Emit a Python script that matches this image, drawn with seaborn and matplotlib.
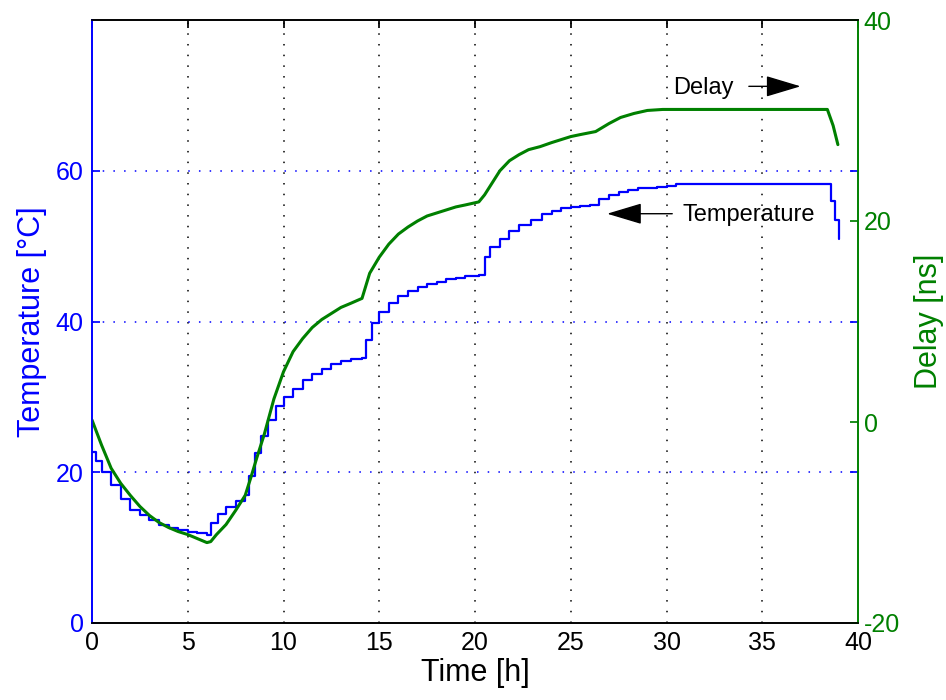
import numpy as np
import pandas as pd
import matplotlib
matplotlib.use("Agg")
import matplotlib.pyplot as plt
import seaborn as sns

# ---- data ----
temp_time = [0.0, 0.2, 0.5, 1.0, 1.5, 2.0, 2.5, 3.0, 3.5, 4.0, 4.5, 5.0, 5.5, 6.0,
             6.2, 6.6, 7.0, 7.5, 8.0, 8.2, 8.5, 8.8, 9.2, 9.6, 10.0, 10.5, 11.0,
             11.5, 12.0, 12.5, 13.0, 13.5, 14.1, 14.3, 14.6, 15.0, 15.5, 16.0,
             16.5, 17.0, 17.5, 18.0, 18.5, 19.0, 19.5, 20.2, 20.5, 20.8, 21.3,
             21.8, 22.3, 22.9, 23.5, 24.0, 24.5, 25.0, 25.5, 26.0, 26.5, 27.0,
             27.5, 28.0, 28.5, 29.0, 29.5, 30.0, 30.5, 38.4, 38.6, 38.8, 39.0]
temp_vals = [22.7, 21.5, 20.0, 18.3, 16.5, 15.0, 14.3, 13.7, 13.0, 12.6, 12.3, 12.1,
             12.0, 11.7, 13.3, 14.5, 15.4, 16.2, 17.0, 19.5, 22.5, 24.8, 26.9, 28.8,
             30.0, 31.1, 32.2, 33.0, 33.7, 34.4, 34.8, 35.0, 35.2, 37.5, 39.8, 41.3,
             42.5, 43.4, 44.1, 44.6, 45.0, 45.3, 45.6, 45.8, 46.0, 46.2, 48.5, 49.9,
             51.0, 52.0, 52.8, 53.5, 54.2, 54.7, 55.1, 55.2, 55.3, 55.5, 56.2, 56.8,
             57.2, 57.5, 57.7, 57.7, 57.8, 58.0, 58.2, 58.2, 56.0, 53.5, 51.0]

delay_time = [0.0, 0.5, 1.0, 1.5, 2.0, 2.5, 3.0, 3.5, 4.0, 4.5, 5.0, 5.5, 6.0, 6.2,
              6.5, 7.0, 7.5, 8.0, 8.3, 8.6, 9.0, 9.5, 10.0, 10.5, 11.0, 11.5, 12.0,
              12.5, 13.0, 13.5, 14.1, 14.5, 15.0, 15.5, 16.0, 16.5, 17.0, 17.5, 18.0,
              18.5, 19.0, 19.5, 20.2, 20.5, 20.8, 21.3, 21.8, 22.3, 22.8, 23.4, 24.0,
              24.5, 25.0, 25.5, 26.3, 27.0, 27.6, 28.3, 29.0, 29.8, 38.4, 38.7, 38.95]
delay_vals = [0.2, -2.3, -4.6, -6.1, -7.3, -8.4, -9.3, -10.0, -10.5, -10.9, -11.2,
              -11.6, -12.0, -11.9, -11.2, -10.2, -8.8, -7.3, -5.5, -3.6, -1.2, 2.3,
              5.0, 7.0, 8.3, 9.4, 10.2, 10.8, 11.4, 11.8, 12.3, 14.8, 16.4, 17.7,
              18.7, 19.4, 20.0, 20.5, 20.8, 21.1, 21.4, 21.6, 21.9, 22.6, 23.5, 25.0,
              26.0, 26.6, 27.1, 27.4, 27.8, 28.1, 28.4, 28.6, 28.9, 29.7, 30.3, 30.7,
              31.0, 31.1, 31.1, 29.5, 27.6]

x_ticks = [0, 5, 10, 15, 20, 25, 30, 35, 40]
temp_ticks = [0, 20, 40, 60]
delay_ticks = [-20, 0, 20, 40]

BLUE = "#0000FF"
GREEN = "#008000"

sns.set_theme(style="white")
plt.rcParams["font.family"] = ["Liberation Sans", "DejaVu Sans"]
plt.rcParams["axes.unicode_minus"] = False

fig = plt.figure(figsize=(9.46, 7.0), dpi=100)
ax = fig.add_axes([92 / 946, 1 - 623 / 700, (858 - 92) / 946, (623 - 20) / 700])
ax2 = ax.twinx()

df_t = pd.DataFrame({"time": temp_time, "temp": temp_vals})
df_d = pd.DataFrame({"time": delay_time, "delay": delay_vals})

sns.lineplot(data=df_t, x="time", y="temp", ax=ax, color=BLUE, lw=1.6,
             drawstyle="steps-post", estimator=None, sort=False)
sns.lineplot(data=df_d, x="time", y="delay", ax=ax2, color=GREEN, lw=2.2,
             estimator=None, sort=False)

ax.set_xlim(0, 40)
ax.set_ylim(0, 80)
ax2.set_ylim(-20, 40)
ax.set_xticks(x_ticks)
ax.set_yticks(temp_ticks)
ax2.set_yticks(delay_ticks)

dots = (0, (1, 6))
for xv in x_ticks[1:-1]:
    ax.axvline(xv, color="black", lw=1.1, ls=dots, zorder=0)
for yv in temp_ticks[1:]:
    ax.axhline(yv, color=BLUE, lw=1.1, ls=dots, zorder=0)

ax.set_xlabel("Time [h]", fontsize=22, color="black", labelpad=2)
ax.set_ylabel("Temperature [°C]", fontsize=22, color=BLUE, labelpad=6)
ax2.set_ylabel("Delay [ns]", fontsize=22, color=GREEN, labelpad=10)

ax.tick_params(axis="x", colors="black", direction="in", top=True, length=6,
               labelsize=18, pad=6)
ax.tick_params(axis="y", colors=BLUE, direction="in", right=True, length=6,
               labelsize=18, pad=6)
ax2.tick_params(axis="y", colors=GREEN, direction="in", length=6,
                labelsize=18, pad=4)

for a in (ax, ax2):
    a.spines["top"].set_color("black")
    a.spines["bottom"].set_color("black")
    a.spines["left"].set_color(BLUE)
    a.spines["right"].set_color(GREEN)
    for s in a.spines.values():
        s.set_linewidth(1.2)

ax.grid(False)
ax2.grid(False)

# annotations
arrow = "-|>,head_length=1.1,head_width=0.33"
ax2.text(30.35, 33.2, "Delay", fontsize=17, va="center", ha="left", color="black")
ax2.annotate("", xy=(37.0, 33.4), xytext=(34.3, 33.4),
             arrowprops=dict(arrowstyle=arrow, color="black", lw=1.0,
                             mutation_scale=20, shrinkA=0, shrinkB=0))
ax.text(30.85, 54.1, "Temperature", fontsize=17, va="center", ha="left", color="black")
ax.annotate("", xy=(26.9, 54.3), xytext=(30.3, 54.3),
            arrowprops=dict(arrowstyle=arrow, color="black", lw=1.0,
                            mutation_scale=20, shrinkA=0, shrinkB=0))

fig.savefig("out.png", dpi=100)
